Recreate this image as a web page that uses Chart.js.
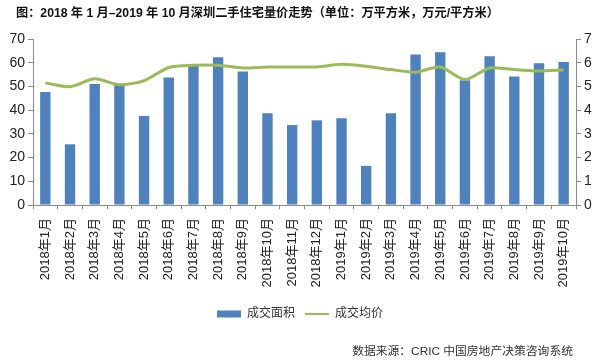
<!DOCTYPE html>
<html><head><meta charset="utf-8">
<script src="https://cdn.jsdelivr.net/npm/chart.js@4/dist/chart.umd.min.js"></script>
<style>
html,body{margin:0;padding:0;background:#fff;}
#wrap{position:relative;width:600px;height:360px;}
#title{position:absolute;left:16px;top:3px;font:bold 12.2px "Liberation Sans","Noto Sans CJK SC",sans-serif;color:#111;white-space:nowrap;}
#source{position:absolute;right:27px;top:341px;font:11.8px "Liberation Sans","Noto Sans CJK SC",sans-serif;color:#333;white-space:nowrap;}
</style></head>
<body>
<div id="wrap">
<canvas id="c" width="600" height="360"></canvas>
<div id="title">图：2018 年 1 月–2019 年 10 月深圳二手住宅量价走势（单位：万平方米，万元/平方米）</div>
<div id="source">数据来源：CRIC 中国房地产决策咨询系统</div>
</div>
<script>
const categories = ["2018年1月","2018年2月","2018年3月","2018年4月","2018年5月","2018年6月","2018年7月","2018年8月","2018年9月","2018年10月","2018年11月","2018年12月","2019年1月","2019年2月","2019年3月","2019年4月","2019年5月","2019年6月","2019年7月","2019年8月","2019年9月","2019年10月"];
const areaValues = [47.6,25.6,51.0,50.6,37.5,53.8,59.0,62.3,56.3,38.7,33.7,35.7,36.6,16.5,38.7,63.5,64.4,52.6,62.7,54.2,59.8,60.3];
const priceValues = [5.15,4.99,5.32,5.07,5.24,5.80,5.89,5.89,5.78,5.82,5.82,5.82,5.93,5.85,5.71,5.60,5.82,5.29,5.78,5.71,5.65,5.70];
const leftTicks = [0,10,20,30,40,50,60,70];
const rightTicks = [0,1,2,3,4,5,6,7];
const seriesNames = ["成交面积","成交均价"];

const FONT = '"Liberation Sans","Noto Sans CJK SC",sans-serif';
const barColor = '#4F81BD';
const lineColor = '#9BBB59';
const axisColor = '#8c8c8c';

new Chart(document.getElementById('c'), {
  data: {
    labels: categories,
    datasets: [
      {type:'line', label: seriesNames[1], data: priceValues, yAxisID:'y1', borderColor: lineColor, backgroundColor: lineColor, borderWidth: 3, pointRadius: 0, tension: 0.25, order: 0},
      {type:'bar', label: seriesNames[0], data: areaValues, yAxisID:'y', backgroundColor: barColor, borderWidth: 0, barPercentage: 0.42, categoryPercentage: 1.0, order: 1}
    ]
  },
  options: {
    responsive: false,
    animation: false,
    layout: {padding: {top: 39, bottom: 30, left: 0, right: 0}},
    plugins: {
      title: {display: false},
      tooltip: {enabled: false},
      legend: {
        position: 'bottom',
        labels: {
          font: {family: FONT, size: 12},
          color: '#333',
          usePointStyle: true,
          pointStyleWidth: 24,
          boxWidth: 24,
          boxHeight: 7,
          padding: 10,
          sort: (a,b) => b.datasetIndex - a.datasetIndex,
          generateLabels: (chart) => {
            const items = Chart.defaults.plugins.legend.labels.generateLabels(chart);
            items.forEach(it => {
              if (it.datasetIndex === 1) { it.pointStyle = 'rect'; it.lineWidth = 0; it.fillStyle = barColor; it.strokeStyle = barColor; }
              else { it.pointStyle = 'line'; it.lineWidth = 2; it.strokeStyle = lineColor; it.fillStyle = lineColor; }
            });
            return items;
          }
        }
      }
    },
    scales: {
      x: {
        offset: true,
        grid: {display: true, offset: true, drawOnChartArea: false, tickLength: 4, color: axisColor},
        border: {display: true, color: axisColor},
        ticks: {font: {family: FONT, size: 13}, color: '#222', minRotation: 90, maxRotation: 90, autoSkip: false, padding: 9},
        afterFit: s => { s.height = 93; }
      },
      y: {
        position: 'left',
        min: 0, max: 70,
        afterBuildTicks: s => { s.ticks = leftTicks.map(v => ({value: v})); },
        grid: {display: true, drawOnChartArea: false, tickLength: 5, color: axisColor},
        border: {display: true, color: axisColor},
        ticks: {font: {family: FONT, size: 14}, color: '#222', padding: 3},
        afterFit: s => { s.width = 33; }
      },
      y1: {
        position: 'right',
        min: 0, max: 7,
        afterBuildTicks: s => { s.ticks = rightTicks.map(v => ({value: v})); },
        grid: {display: true, drawOnChartArea: false, tickLength: 5, color: axisColor},
        border: {display: true, color: axisColor},
        ticks: {font: {family: FONT, size: 14}, color: '#222', padding: 3},
        afterFit: s => { s.width = 24; }
      }
    }
  }
});
</script>
</body></html>
